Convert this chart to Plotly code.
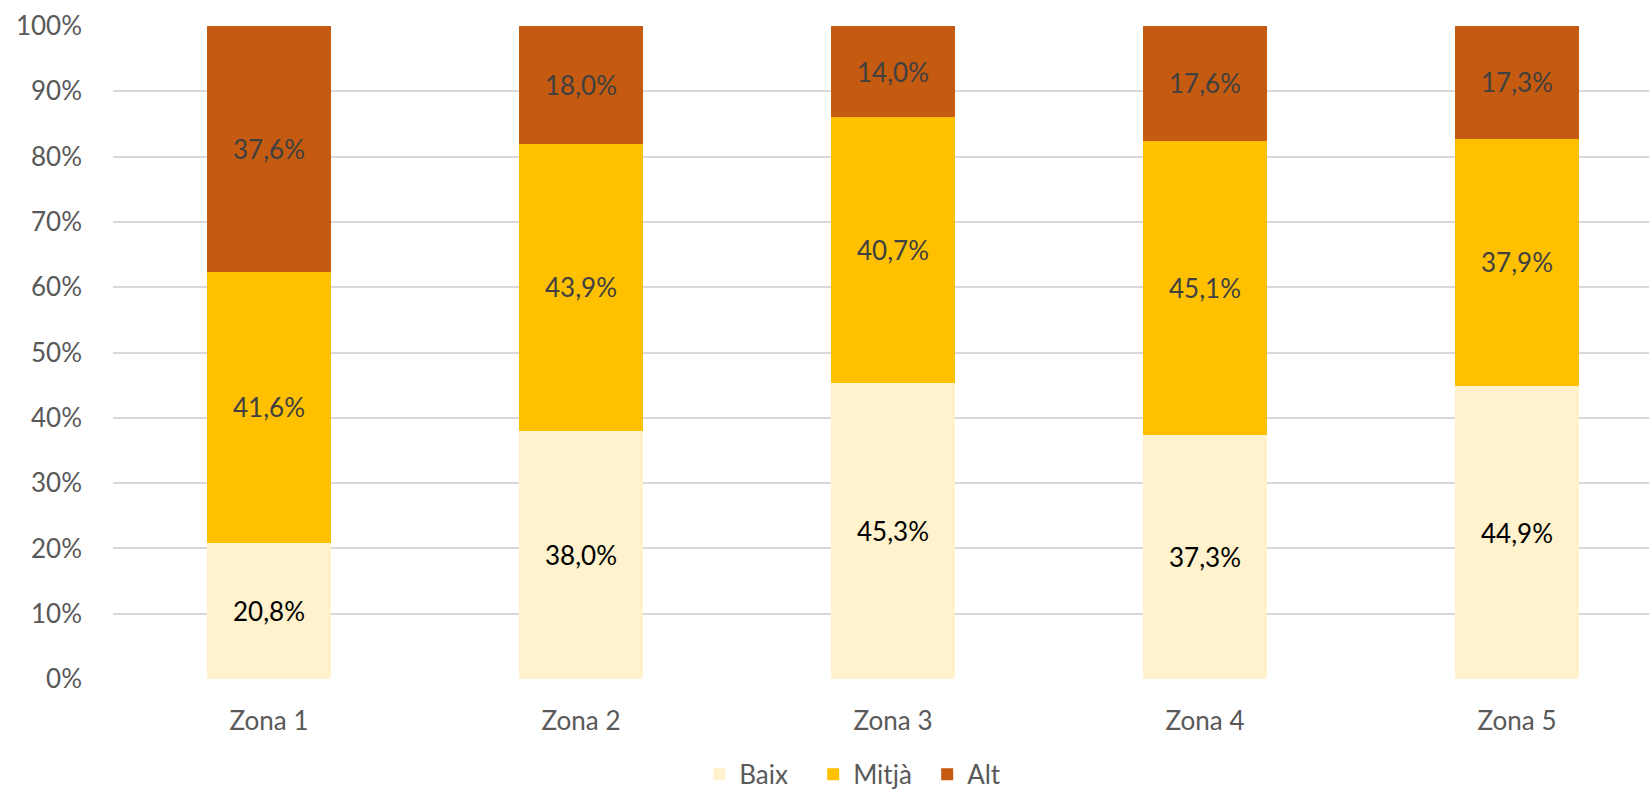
import plotly.graph_objects as go

categories = ["Zona 1", "Zona 2", "Zona 3", "Zona 4", "Zona 5"]
baix = [20.8, 38.0, 45.3, 37.3, 44.9]
mitja = [41.6, 43.9, 40.7, 45.1, 37.9]
alt = [37.6, 18.0, 14.0, 17.6, 17.3]
y_ticks = [0, 10, 20, 30, 40, 50, 60, 70, 80, 90, 100]

# 100% stacked: normalise each zone to its total (as the original chart does)
totals = [b + m + a for b, m, a in zip(baix, mitja, alt)]

FONT = "Lato"
fig = go.Figure()
series = [
    ("Baix", baix, "#FFF2CC", "#000000"),
    ("Mitjà", mitja, "#FFC000", "#404040"),
    ("Alt", alt, "#C55A11", "#404040"),
]
for name, vals, col, tcol in series:
    share = [v / t * 100 for v, t in zip(vals, totals)]
    fig.add_bar(
        x=categories, y=share, name=name, marker_color=col,
        marker_line_width=0, width=0.397,
        text=vals, texttemplate="%{text:.1f}%", textposition="inside",
        insidetextanchor="middle", textangle=0,
        textfont=dict(family=FONT, size=26, color=tcol),
    )

fig.update_layout(
    barmode="stack",
    separators=",.",
    width=1649, height=795,
    margin=dict(l=113, r=0, t=26, b=116),
    plot_bgcolor="white", paper_bgcolor="white",
    font=dict(family=FONT, size=26, color="#595959"),
    legend=dict(orientation="h", xref="container", yref="container",
                x=0.424, xanchor="left", y=0.026, yanchor="middle",
                font=dict(family=FONT, size=26, color="#595959"),
                traceorder="normal", entrywidth=69, entrywidthmode="pixels"),
    showlegend=True,
)
fig.update_xaxes(
    range=[-0.5, 4.423], showgrid=False, showline=False, zeroline=False,
    ticks="", ticklabelstandoff=24,
    tickfont=dict(family=FONT, size=26, color="#595959"),
)
fig.update_yaxes(
    range=[0, 100], tickvals=y_ticks, ticktext=[f"{v}%" for v in y_ticks],
    showgrid=True, gridcolor="#D9D9D9", gridwidth=2, zeroline=False,
    showline=False, ticks="", ticklabelstandoff=30,
    tickfont=dict(family=FONT, size=26, color="#595959"),
)
fig.write_html(
    "out.html",
    config={"displayModeBar": False},
    post_script="document.body.style.margin='0';document.body.style.overflow='hidden';",
)
